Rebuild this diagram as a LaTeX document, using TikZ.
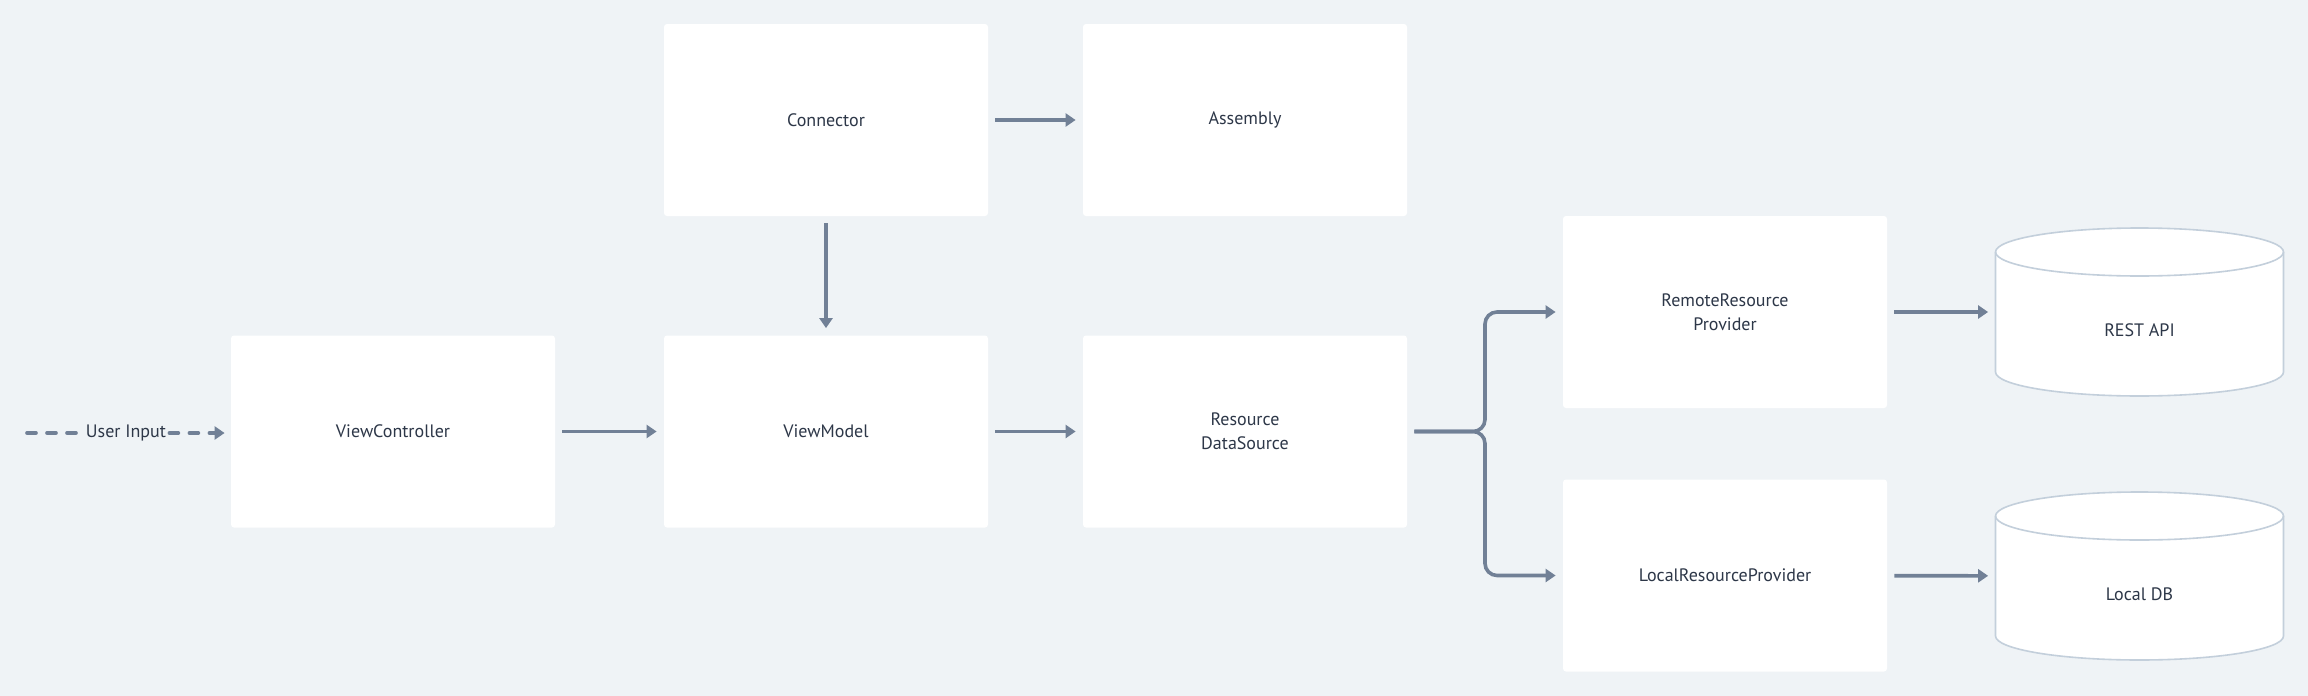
\documentclass[tikz,border=0pt]{standalone}
\usepackage{fontspec}
\setmainfont{PT Sans}
\usetikzlibrary{arrows.meta, positioning}
\definecolor{cbg}{HTML}{EFF3F6}
\definecolor{cline}{HTML}{718096}
\definecolor{ctext}{HTML}{2D3748}
\definecolor{cdb}{HTML}{C3CFDB}
\tikzset{
  every picture/.style={x=0.5pt, y=-0.5pt},
  label text/.style={text=ctext, font=\fontsize{9}{12}\selectfont},
  box/.style={label text, fill=white, rounded corners=1.5pt, align=center, minimum width=162pt, minimum height=96pt},
  db/.style={label text, minimum width=144pt, minimum height=84pt, text height=24pt, text depth=0pt},
  arrow/.style={-{Triangle[length=5pt, width=6.5pt]}, draw=cline, line width=1.8pt, shorten <=3.5pt, shorten >=3.5pt},
  dashline/.style={draw=cline, line width=1.8pt, dash pattern=on 4.5pt off 5.5pt, line cap=round},
}

\begin{document}
\begin{tikzpicture}
  \fill[cbg] (0,0) rectangle (2308,696);
  % top row
  \node[box] (conn) at (826,120) {Connector};
  \node[box] (asm) at (1245,120) {Assembly};
  % middle row
  \node[box] (vc) at (393,431.5) {ViewController};
  \node[box] (vm) at (826,431.5) {ViewModel};
  \node[box] (rds) at (1245,431.5) {Resource\\DataSource};
  % providers
  \node[box] (remote) at (1725,312) {RemoteResource\\Provider};
  \node[box] (local) at (1725,575.5) {LocalResourceProvider};
  % data stores
  \foreach \d/\y in {rest/312, localdb/576} {
    \coordinate (\d c) at (2139.5,\y);
    \draw[cdb, line width=0.8pt, fill=white] ([xshift=-72pt, yshift=30pt]\d c) -- ([xshift=-72pt, yshift=-30pt]\d c)
      arc[start angle=180, end angle=360, x radius=72pt, y radius=12pt] -- ([xshift=72pt, yshift=30pt]\d c)
      arc[start angle=0, end angle=180, x radius=72pt, y radius=12pt] -- cycle;
    \draw[cdb, line width=0.8pt] ([xshift=-72pt, yshift=30pt]\d c) arc[start angle=180, end angle=360, x radius=72pt, y radius=12pt];
  }
  \node[db] (rest) at (restc) {REST API};
  \node[db] (localdb) at (localdbc) {Local DB};
  % user input
  \coordinate (start) at (27,433);
  \node[label text, inner sep=1.5pt] (uin) at (126,433) {User Input};
  \draw[dashline] (start) -- (uin);
  \draw[dashline, -{Triangle[length=5pt, width=6.5pt]}, shorten >=3pt] (uin) -- (vc.west |- uin);
  % connectors
  \draw[arrow] (conn) -- (asm);
  \draw[arrow] (conn) -- (vm);
  \draw[arrow] (vc) -- (vm);
  \draw[arrow] (vm) -- (rds);
  \coordinate (split) at (1485,431.5);
  \draw[arrow, rounded corners=6pt] (rds) -- (split) |- (remote);
  \draw[arrow, rounded corners=6pt] (rds) -- (split) |- (local);
  \draw[arrow] (remote) -- (rest);
  \draw[arrow] (local) -- (localdb);
\end{tikzpicture}
\end{document}
